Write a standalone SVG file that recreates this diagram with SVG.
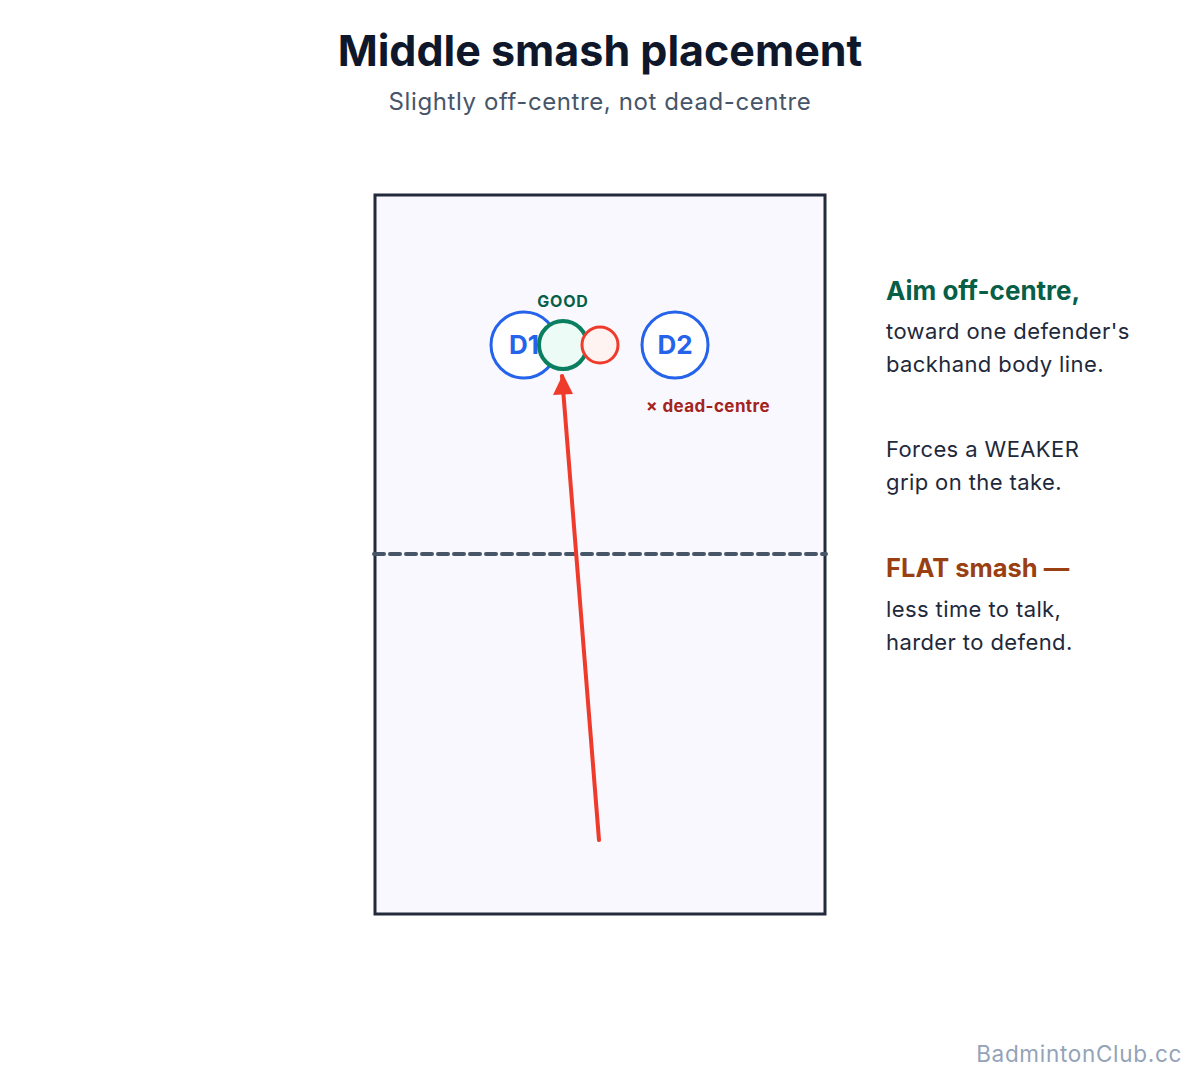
<svg xmlns="http://www.w3.org/2000/svg" width="1200" height="1080" viewBox="0 0 1200 1080">
<defs>
<style>
text{font-family:Inter,"Noto Sans","Liberation Sans",sans-serif}
.title{font-size:43px;font-weight:700;fill:#0f172a;text-anchor:middle}
.sub{font-size:24px;letter-spacing:0.6px;fill:#475569;text-anchor:middle}
.def{fill:#ffffff;stroke:#2563eb;stroke-width:3}
.dlab{font-size:26px;font-weight:700;fill:#2563eb;text-anchor:middle}
.body{font-size:22px;letter-spacing:0.4px;fill:#1e293b}
.headg{font-size:26px;font-weight:700;fill:#065f46}
.heado{font-size:25.5px;font-weight:700;fill:#9a3f12}
</style>
</defs>
<rect width="1200" height="1080" fill="#ffffff"/>
<text class="title" x="600" y="66">Middle smash placement</text>
<text class="sub" x="600" y="110">Slightly off-centre, not dead-centre</text>
<g id="court">
<rect x="375" y="195" width="450" height="719" fill="#f8f8fe" stroke="#232a3b" stroke-width="3"/>
<line x1="374" y1="554" x2="826" y2="554" stroke="#475569" stroke-width="4" stroke-dasharray="10 6" stroke-linecap="round"/>
</g>
<g id="d1"><circle class="def" cx="524" cy="345" r="33"/><text class="dlab" x="524" y="354">D1</text></g>
<g id="d2"><circle class="def" cx="675" cy="345" r="33"/><text class="dlab" x="675" y="354">D2</text></g>
<g id="good"><circle cx="563" cy="345" r="24" fill="#ecfbf6" stroke="#0a7f5f" stroke-width="4"/><text x="563" y="307" font-size="16" letter-spacing="0.8" font-weight="700" fill="#065f46" text-anchor="middle">GOOD</text></g>
<g id="dead"><circle cx="600" cy="345" r="18" fill="#fff3f2" stroke="#ef3b2c" stroke-width="3"/><text x="708" y="412" font-size="17" letter-spacing="0.4" font-weight="700" fill="#a5231d" text-anchor="middle">× dead-centre</text></g>
<g id="connectors">
<line x1="599" y1="840" x2="562" y2="376" stroke="#ef3b2c" stroke-width="4" stroke-linecap="round"/>
<path d="M563,374 L553,395 L573,394 z" fill="#ef3b2c"/>
</g>
<g id="notes">
<text class="headg" x="886" y="300">Aim off-centre,</text>
<text class="body" x="886" y="339">toward one defender's</text>
<text class="body" x="886" y="372">backhand body line.</text>
<text class="body" x="886" y="457">Forces a WEAKER</text>
<text class="body" x="886" y="490">grip on the take.</text>
<text class="heado" x="886" y="577">FLAT smash —</text>
<text class="body" x="886" y="617">less time to talk,</text>
<text class="body" x="886" y="650">harder to defend.</text>
</g>
<text x="1182" y="1062" font-size="22.5" letter-spacing="0.7" fill="#94a3b8" text-anchor="end">BadmintonClub.cc</text>
</svg>
